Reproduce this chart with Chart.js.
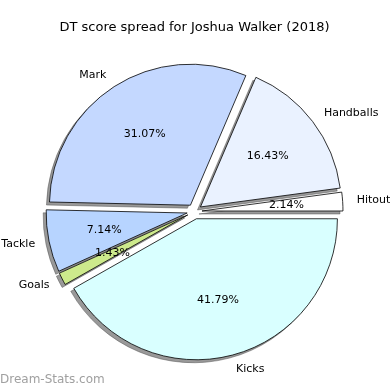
<!DOCTYPE html>
<html>
<head>
<meta charset="utf-8">
<script src="https://cdn.jsdelivr.net/npm/chart.js@4.4.1/dist/chart.umd.min.js"></script>
<style>
  body { margin: 0; background: #fff; }
  #wrap { position: relative; width: 390px; height: 390px; }
</style>
</head>
<body>
<div id="wrap"><canvas id="pieChart" width="390" height="390"></canvas></div>
<script>
// 資料 (順時針，從 3 點鐘方向開始)
const categories = ['Kicks', 'Goals', 'Tackle', 'Mark', 'Handballs', 'Hitout'];
const shares = [41.79, 1.43, 7.14, 31.07, 16.43, 2.14];
const sliceColors = ['#d9ffff', '#cdea8c', '#b7d4ff', '#c4d8ff', '#eaf2ff', '#ffffff'];

const explode = 7.5;      // 每塊往外推的距離 (px)
const pieRadius = 141;
const labelFont = '11px "DejaVu Sans", sans-serif';

// 把每一塊往外推
const explodePlugin = {
    id: 'explode',
    afterDatasetsUpdate(chart) {
        chart.getDatasetMeta(0).data.forEach(arc => {
            const mid = (arc.startAngle + arc.endAngle) / 2;
            arc.x += Math.cos(mid) * explode;
            arc.y += Math.sin(mid) * explode;
        });
    }
};

// 陰影：先畫一份灰色的，往左下偏移
const shadowPlugin = {
    id: 'pieShadow',
    beforeDatasetsDraw(chart) {
        const ctx = chart.ctx;
        ctx.save();
        ctx.translate(-3, 3);
        chart.getDatasetMeta(0).data.forEach(arc => {
            const orig = arc.options;
            arc.options = Object.assign({}, orig, {
                backgroundColor: 'rgba(70,70,70,0.55)',
                borderColor: 'rgba(70,70,70,0.55)'
            });
            arc.draw(ctx);
            arc.options = orig;
        });
        ctx.restore();
    }
};

// 類別名稱 + 百分比
const labelPlugin = {
    id: 'sliceLabels',
    afterDatasetsDraw(chart) {
        const ctx = chart.ctx;
        const values = chart.data.datasets[0].data;
        const total = values.reduce((a, b) => a + b, 0);
        ctx.save();
        ctx.font = labelFont;
        ctx.fillStyle = '#000';
        ctx.textBaseline = 'middle';
        chart.getDatasetMeta(0).data.forEach((arc, i) => {
            const mid = (arc.startAngle + arc.endAngle) / 2;
            const r = arc.outerRadius;
            const lx = arc.x + Math.cos(mid) * r * 1.1;
            const ly = arc.y + Math.sin(mid) * r * 1.1;
            ctx.textAlign = Math.cos(mid) > 0 ? 'left' : 'right';
            ctx.fillText(chart.data.labels[i], lx, ly);
            const px = arc.x + Math.cos(mid) * r * 0.6;
            const py = arc.y + Math.sin(mid) * r * 0.6;
            ctx.textAlign = 'center';
            ctx.fillText((values[i] / total * 100).toFixed(2) + '%', px, py);
        });
        // 浮水印
        ctx.font = '12px "DejaVu Sans", sans-serif';
        ctx.fillStyle = '#a0a0a0';
        ctx.textAlign = 'left';
        ctx.fillText('Dream-Stats.com', 0, 380);
        ctx.restore();
    }
};

const ctx = document.getElementById('pieChart').getContext('2d');
const pieChart = new Chart(ctx, {
    type: 'pie',
    data: {
        labels: categories,
        datasets: [{
            data: shares,
            backgroundColor: sliceColors,
            borderColor: '#000',
            borderWidth: 0.8,
            radius: pieRadius
        }]
    },
    options: {
        responsive: false,
        animation: false,
        events: [],
        rotation: 90,
        layout: { padding: { top: 0, bottom: 2.6, left: 0, right: 1 } },
        plugins: {
            legend: { display: false },
            tooltip: { enabled: false },
            title: {
                display: true,
                text: 'DT score spread for Joshua Walker (2018)',
                color: '#000',
                font: { family: '"DejaVu Sans", sans-serif', size: 13, weight: 'normal' },
                padding: { top: 20, bottom: 0 }
            }
        }
    },
    plugins: [explodePlugin, shadowPlugin, labelPlugin]
});
</script>
</body>
</html>
